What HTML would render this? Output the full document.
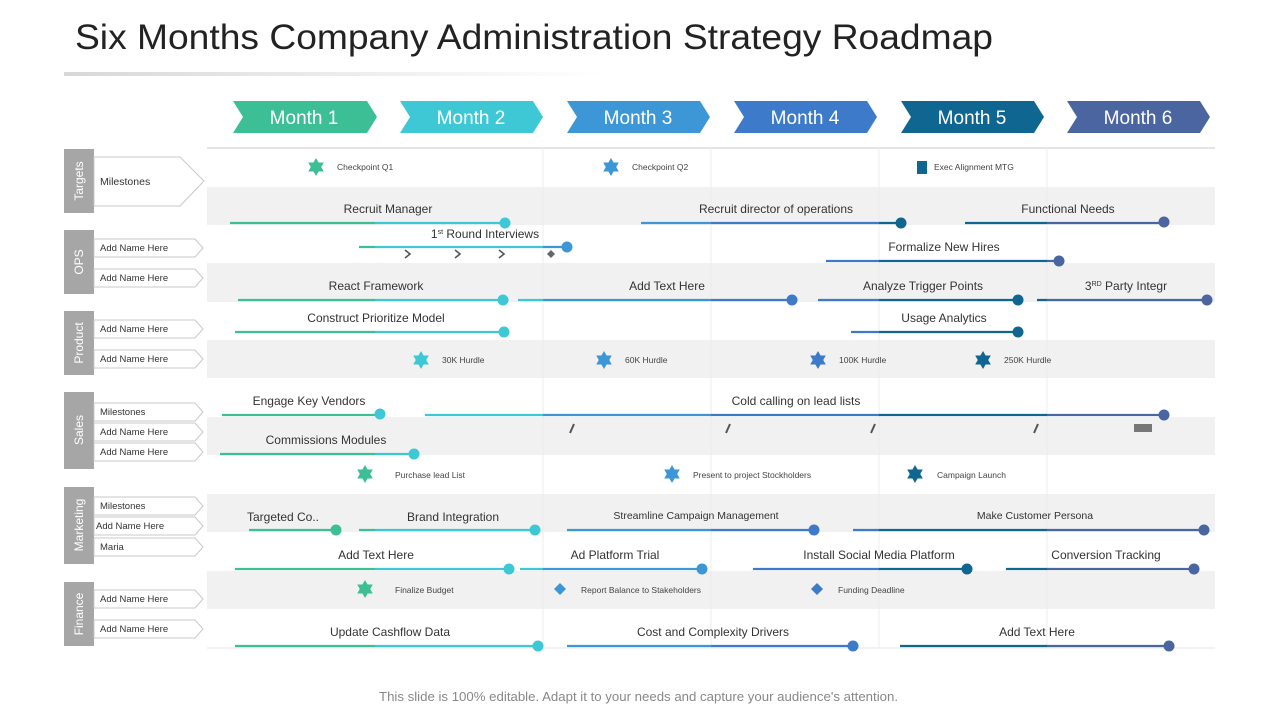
<!DOCTYPE html>
<html><head><meta charset="utf-8"><style>
html,body{margin:0;padding:0;background:#fff;}
svg{display:block;font-family:"Liberation Sans",Arial,sans-serif;}
</style></head><body>
<svg width="1280" height="720" viewBox="0 0 1280 720" xmlns="http://www.w3.org/2000/svg">
<defs>
<linearGradient id="g" gradientUnits="userSpaceOnUse" x1="207" y1="0" x2="1215" y2="0">
<stop offset="0" stop-color="#3dbf96"/><stop offset="0.1667" stop-color="#3dbf96"/>
<stop offset="0.1667" stop-color="#3ec8d6"/><stop offset="0.3333" stop-color="#3ec8d6"/>
<stop offset="0.3333" stop-color="#3d97d6"/><stop offset="0.5" stop-color="#3d97d6"/>
<stop offset="0.5" stop-color="#3d7ac9"/><stop offset="0.6667" stop-color="#3d7ac9"/>
<stop offset="0.6667" stop-color="#0f6690"/><stop offset="0.8333" stop-color="#0f6690"/>
<stop offset="0.8333" stop-color="#4a65a0"/><stop offset="1" stop-color="#4a65a0"/>
</linearGradient>
<linearGradient id="ul" x1="0" x2="1"><stop offset="0" stop-color="#d8d8d8"/><stop offset="1" stop-color="#fff"/></linearGradient>
<symbol id="star" viewBox="-10 -10 20 20" overflow="visible"><polygon points="0,-9 7.8,4.5 -7.8,4.5"/><polygon points="0,9 7.8,-4.5 -7.8,-4.5"/></symbol>
</defs>
<text x="75" y="49" font-size="35" fill="#222" textLength="918" lengthAdjust="spacingAndGlyphs">Six Months Company Administration Strategy Roadmap</text>
<rect x="64" y="72" width="540" height="4" fill="url(#ul)"/>
<g fill="#f1f1f1">
<rect x="207" y="187" width="1008" height="38"/><rect x="207" y="263" width="1008" height="39"/>
<rect x="207" y="340" width="1008" height="38"/><rect x="207" y="417" width="1008" height="38"/>
<rect x="207" y="494" width="1008" height="38"/><rect x="207" y="571" width="1008" height="38"/>
</g>
<g stroke="#e4e4e4" stroke-width="1">
<line x1="207" y1="148" x2="1215" y2="148" stroke-width="2"/>
<line x1="207" y1="648" x2="1215" y2="648"/>
<line x1="543" y1="148" x2="543" y2="648" stroke="#ececec"/><line x1="711" y1="148" x2="711" y2="648" stroke="#ececec"/>
<line x1="879" y1="148" x2="879" y2="648" stroke="#ececec"/><line x1="1047" y1="148" x2="1047" y2="648" stroke="#ececec"/>
</g>
<g font-size="19" fill="#fff" text-anchor="middle">
<polygon points="233,101 367,101 377,117 367,133 233,133 243,117" fill="#3dbf96"/><text x="304" y="124">Month 1</text>
<polygon points="400,101 533,101 543,117 533,133 400,133 410,117" fill="#3ec8d6"/><text x="471" y="124">Month 2</text>
<polygon points="567,101 700,101 710,117 700,133 567,133 577,117" fill="#3d97d6"/><text x="638" y="124">Month 3</text>
<polygon points="734,101 867,101 877,117 867,133 734,133 744,117" fill="#3d7ac9"/><text x="805" y="124">Month 4</text>
<polygon points="901,101 1034,101 1044,117 1034,133 901,133 911,117" fill="#0f6690"/><text x="972" y="124">Month 5</text>
<polygon points="1067,101 1200,101 1210,117 1200,133 1067,133 1077,117" fill="#4a65a0"/><text x="1138" y="124">Month 6</text>
</g>
<g fill="#a6a6a6">
<rect x="64" y="149" width="30" height="64"/><rect x="64" y="230" width="30" height="64"/>
<rect x="64" y="311" width="30" height="64"/><rect x="64" y="392" width="30" height="77"/>
<rect x="64" y="487" width="30" height="77"/><rect x="64" y="582" width="30" height="64"/>
</g>
<g fill="#fff" font-size="12" text-anchor="middle">
<text transform="translate(83,181) rotate(-90)">Targets</text>
<text transform="translate(83,262) rotate(-90)">OPS</text>
<text transform="translate(83,343) rotate(-90)">Product</text>
<text transform="translate(83,430) rotate(-90)">Sales</text>
<text transform="translate(83,525) rotate(-90)">Marketing</text>
<text transform="translate(83,614) rotate(-90)">Finance</text>
</g>
<g fill="#fff" stroke="#c8c8c8" stroke-width="1">
<polygon points="94,157 180,157 204,181 180,206 94,206"/>
<polygon points="94,239 195,239 203,248 195,257 94,257"/><polygon points="94,269 195,269 203,278 195,287 94,287"/>
<polygon points="94,320 195,320 203,329 195,338 94,338"/><polygon points="94,350 195,350 203,359 195,368 94,368"/>
<polygon points="94,403 195,403 203,412 195,421 94,421"/><polygon points="94,423 195,423 203,432 195,441 94,441"/><polygon points="94,443 195,443 203,452 195,461 94,461"/>
<polygon points="94,497 195,497 203,506 195,515 94,515"/><polygon points="94,517 195,517 203,526 195,535 94,535"/><polygon points="94,538 195,538 203,547 195,556 94,556"/>
<polygon points="94,590 195,590 203,599 195,608 94,608"/><polygon points="94,620 195,620 203,629 195,638 94,638"/>
</g>
<g fill="#333" font-size="9.5">
<text x="100" y="185" font-size="10.5">Milestones</text>
<text x="100" y="251">Add Name Here</text><text x="100" y="281">Add Name Here</text>
<text x="100" y="332">Add Name Here</text><text x="100" y="362">Add Name Here</text>
<text x="100" y="415">Milestones</text><text x="100" y="435">Add Name Here</text><text x="100" y="455">Add Name Here</text>
<text x="100" y="509">Milestones</text><text x="96" y="529">Add Name Here</text><text x="100" y="550">Maria</text>
<text x="100" y="602">Add Name Here</text><text x="100" y="632">Add Name Here</text>
</g>
<g stroke="url(#g)" stroke-width="2.2">
<line x1="230" y1="223" x2="505" y2="223"/><line x1="641" y1="223" x2="901" y2="223"/><line x1="965" y1="223" x2="1164" y2="223"/>
<line x1="359" y1="247" x2="567" y2="247"/><line x1="826" y1="261" x2="1059" y2="261"/>
<line x1="238" y1="300" x2="503" y2="300"/><line x1="518" y1="300" x2="792" y2="300"/><line x1="818" y1="300" x2="1018" y2="300"/><line x1="1037" y1="300" x2="1207" y2="300"/>
<line x1="235" y1="332" x2="504" y2="332"/><line x1="851" y1="332" x2="1018" y2="332"/>
<line x1="222" y1="415" x2="380" y2="415"/><line x1="425" y1="415" x2="1164" y2="415"/>
<line x1="220" y1="454" x2="414" y2="454"/>
<line x1="249" y1="530" x2="336" y2="530"/><line x1="359" y1="530" x2="535" y2="530"/><line x1="567" y1="530" x2="814" y2="530"/><line x1="853" y1="530" x2="1204" y2="530"/>
<line x1="235" y1="569" x2="509" y2="569"/><line x1="520" y1="569" x2="702" y2="569"/><line x1="753" y1="569" x2="967" y2="569"/><line x1="1006" y1="569" x2="1194" y2="569"/>
<line x1="235" y1="646" x2="538" y2="646"/><line x1="567" y1="646" x2="853" y2="646"/><line x1="900" y1="646" x2="1169" y2="646"/>
</g>
<g>
<circle cx="505" cy="223" r="5.5" fill="#3ec8d6"/><circle cx="901" cy="223" r="5.5" fill="#0f6690"/><circle cx="1164" cy="222" r="5.5" fill="#4a65a0"/>
<circle cx="567" cy="247" r="5.5" fill="#3d97d6"/><circle cx="1059" cy="261" r="5.5" fill="#4a65a0"/>
<circle cx="503" cy="300" r="5.5" fill="#3ec8d6"/><circle cx="792" cy="300" r="5.5" fill="#3d7ac9"/><circle cx="1018" cy="300" r="5.5" fill="#0f6690"/><circle cx="1207" cy="300" r="5.5" fill="#4a65a0"/>
<circle cx="504" cy="332" r="5.5" fill="#3ec8d6"/><circle cx="1018" cy="332" r="5.5" fill="#0f6690"/>
<circle cx="380" cy="414" r="5.5" fill="#3ec8d6"/><circle cx="1164" cy="415" r="5.5" fill="#4a65a0"/>
<circle cx="414" cy="454" r="5.5" fill="#3ec8d6"/>
<circle cx="336" cy="530" r="5.5" fill="#3dbf96"/><circle cx="535" cy="530" r="5.5" fill="#3ec8d6"/><circle cx="814" cy="530" r="5.5" fill="#3d7ac9"/><circle cx="1204" cy="530" r="5.5" fill="#4a65a0"/>
<circle cx="509" cy="569" r="5.5" fill="#3ec8d6"/><circle cx="702" cy="569" r="5.5" fill="#3d97d6"/><circle cx="967" cy="569" r="5.5" fill="#0f6690"/><circle cx="1194" cy="569" r="5.5" fill="#4a65a0"/>
<circle cx="538" cy="646" r="5.5" fill="#3ec8d6"/><circle cx="853" cy="646" r="5.5" fill="#3d7ac9"/><circle cx="1169" cy="646" r="5.5" fill="#4a65a0"/>
</g>
<g stroke="#555" stroke-width="1.6" fill="none">
<polyline points="405,250 410,254 405,258"/><polyline points="455,250 460,254 455,258"/><polyline points="499,250 504,254 499,258"/>
</g>
<polygon points="551,250 555,254 551,258 547,254" fill="#666"/>
<g stroke="#555" stroke-width="2"><line x1="570" y1="433" x2="574" y2="424"/><line x1="726" y1="433" x2="730" y2="424"/><line x1="871" y1="433" x2="875" y2="424"/><line x1="1034" y1="433" x2="1038" y2="424"/></g>
<rect x="1134" y="424" width="18" height="8" fill="#777"/>
<g fill="#333" font-size="12" text-anchor="middle">
<text x="388" y="213">Recruit Manager</text><text x="776" y="213">Recruit director of operations</text><text x="1068" y="213">Functional Needs</text>
<text x="485" y="238">1<tspan font-size="7" dy="-4">st</tspan><tspan dy="4"> Round Interviews</tspan></text><text x="944" y="251">Formalize New Hires</text>
<text x="376" y="290">React Framework</text><text x="667" y="290">Add Text Here</text><text x="923" y="290">Analyze  Trigger Points</text><text x="1126" y="290">3<tspan font-size="7" dy="-4">RD</tspan><tspan dy="4"> Party Integr</tspan></text>
<text x="376" y="322">Construct Prioritize Model</text><text x="944" y="322">Usage Analytics</text>
<text x="309" y="405">Engage Key Vendors</text><text x="796" y="405">Cold calling on lead lists</text>
<text x="326" y="444">Commissions Modules</text>
<text x="283" y="521">Targeted Co..</text><text x="453" y="521">Brand Integration</text><text x="696" y="519" font-size="10.5">Streamline Campaign Management</text><text x="1035" y="519" font-size="10.5">Make Customer Persona</text>
<text x="376" y="559">Add Text Here</text><text x="615" y="559">Ad Platform Trial</text><text x="879" y="559">Install Social Media Platform</text><text x="1106" y="559">Conversion Tracking</text>
<text x="390" y="636">Update Cashflow Data</text><text x="713" y="636">Cost and Complexity Drivers</text><text x="1037" y="636">Add Text Here</text>
</g>
<use href="#star" x="306" y="157" width="20" height="20" fill="#3dbf96"/>
<use href="#star" x="601" y="157" width="20" height="20" fill="#3d97d6"/>
<rect x="917" y="161" width="10" height="13" fill="#0f6690"/>
<use href="#star" x="411" y="350" width="20" height="20" fill="#3ec8d6"/>
<use href="#star" x="594" y="350" width="20" height="20" fill="#3d97d6"/>
<use href="#star" x="808" y="350" width="20" height="20" fill="#3d7ac9"/>
<use href="#star" x="973" y="350" width="20" height="20" fill="#0f6690"/>
<use href="#star" x="355" y="464" width="20" height="20" fill="#3dbf96"/>
<use href="#star" x="662" y="464" width="20" height="20" fill="#3d97d6"/>
<use href="#star" x="905" y="464" width="20" height="20" fill="#0f6690"/>
<use href="#star" x="355" y="579" width="20" height="20" fill="#3dbf96"/>
<polygon points="560,583 566,589 560,595 554,589" fill="#3d97d6"/>
<polygon points="817,583 823,589 817,595 811,589" fill="#3d7ac9"/>
<g fill="#444" font-size="8.5">
<text x="337" y="170">Checkpoint Q1</text><text x="632" y="170">Checkpoint Q2</text><text x="934" y="170">Exec Alignment MTG</text>
<text x="442" y="363">30K Hurdle</text><text x="625" y="363">60K Hurdle</text><text x="839" y="363">100K Hurdle</text><text x="1004" y="363">250K Hurdle</text>
<text x="395" y="478">Purchase lead List</text><text x="693" y="478">Present to project Stockholders</text><text x="937" y="478">Campaign Launch</text>
<text x="395" y="593">Finalize Budget</text><text x="581" y="593">Report Balance to Stakeholders</text><text x="838" y="593">Funding Deadline</text>
</g>
<text x="379" y="701" font-size="13" fill="#888" textLength="519" lengthAdjust="spacingAndGlyphs">This slide is 100% editable. Adapt it to your needs and capture your audience's attention.</text>
</svg>
</body></html>
